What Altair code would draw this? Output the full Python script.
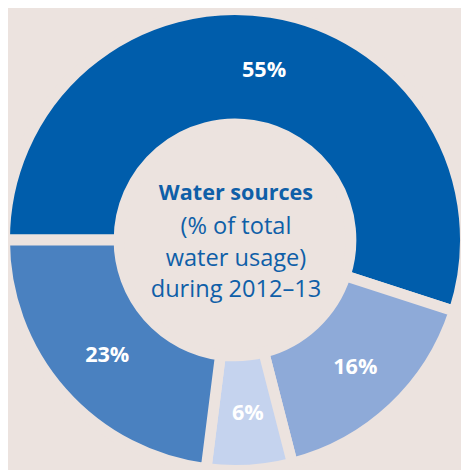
import altair as alt
import pandas as pd
import math

# Data
sources = ["A", "B", "C", "D"]
shares = [55, 16, 6, 23]
labels = ["55%", "16%", "6%", "23%"]
colors = ["#005dab", "#8eaad8", "#c5d3ee", "#4a81c0"]
title_line = "Water sources"
sub_lines = ["(% of total", "water usage)", "during 2012–13"]

BG = "#ece3df"
TXT = "#0f5fa8"

df = pd.DataFrame({"source": sources, "share": shares, "label": labels,
                   "order": list(range(len(sources)))})

start = 1.5 * math.pi
theta_scale = alt.Scale(range=[start, start + 2 * math.pi])

cx, cy = 231, 232

base = alt.Chart(df).encode(
    theta=alt.Theta("share:Q", stack=True, scale=theta_scale),
    order=alt.Order("order:Q"),
)

arcs = base.mark_arc(
    outerRadius=234.5, innerRadius=118, stroke=BG, strokeWidth=11
).encode(
    color=alt.Color("source:N", scale=alt.Scale(domain=sources, range=colors), legend=None),
    x=alt.value(cx), y=alt.value(cy),
)

txt = base.mark_text(
    radius=176, font="Open Sans", fontWeight="bold", fontSize=22, color="white",
    baseline="middle", align="center"
).encode(text="label:N", x=alt.value(cx + 2), y=alt.value(cy + 1))

center_df = pd.DataFrame({"t": [title_line]})
title_mark = alt.Chart(center_df).mark_text(
    font="Open Sans", fontWeight="bold", fontSize=22, color=TXT,
    baseline="middle", align="center"
).encode(text="t:N", x=alt.value(cx + 1), y=alt.value(cy - 48))

sub_df = pd.DataFrame({"t": sub_lines, "i": list(range(len(sub_lines)))})
sub_mark = alt.Chart(sub_df).mark_text(
    font="Open Sans", fontSize=24, color=TXT, baseline="middle", align="center"
).encode(
    text="t:N",
    x=alt.value(cx + 1),
    y=alt.Y("i:Q", scale=alt.Scale(domain=[0, 2], range=[cy - 13, cy + 51]), axis=None),
)

chart = alt.layer(arcs, txt, title_mark, sub_mark).properties(
    width=461, height=462, background=BG, padding=0,
    autosize=alt.AutoSizeParams(type="none"),
).configure_view(stroke=None)

chart.save("out.html", embed_options={"renderer": "svg", "actions": False})
